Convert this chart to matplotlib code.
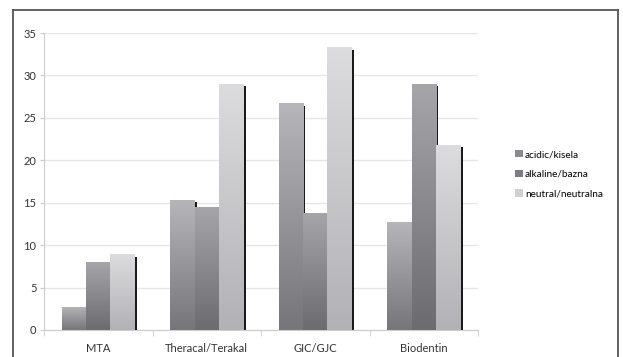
import numpy as np
import matplotlib
matplotlib.use("Agg")
import matplotlib.pyplot as plt
from matplotlib.colors import LinearSegmentedColormap
from matplotlib.lines import Line2D
from matplotlib.patches import Patch

plt.rcParams['font.family'] = ['Lato', 'DejaVu Sans']

categories = ["MTA", "Theracal/Terakal", "GIC/GJC", "Biodentin"]
series = ["acidic/kisela", "alkaline/bazna", "neutral/neutralna"]
acidic = [2.75, 15.3, 26.7, 12.7]
alkaline = [8.05, 14.5, 13.8, 28.95]
neutral = [8.9, 29.0, 33.3, 21.8]

# gradient (top, bottom) and legend swatch colour per series
grads = [("#b6b6ba", "#76767a"), ("#a6a6aa", "#6c6c70"), ("#dcdcde", "#b2b2b6")]
swatch = ["#8a8a8e", "#7c7c80", "#d0d0d2"]

fig = plt.figure(figsize=(6.23, 3.57), dpi=100)
ax = fig.add_axes([44/623, 1-330/357, (478-44)/623, (330-33)/357])

x = np.arange(len(categories))
w = 0.225
px = 1.0 / 108  # one pixel in x data units

for i, vals in enumerate([acidic, alkaline, neutral]):
    pos = x + (i - 1) * w
    # shadow behind the bars
    ax.bar(pos + w/2 + 1.2*px, np.array(vals) - 0.25, width=2.2*px,
           color="#1a1a1a", zorder=1)
    bars = ax.bar(pos, vals, width=w, color="none", zorder=2 + i)
    cmap = LinearSegmentedColormap.from_list("g%d" % i, [grads[i][1], grads[i][0]])
    grad = np.linspace(0, 1, 256).reshape(-1, 1)
    for b in bars:
        x0, y0 = b.get_x(), b.get_y()
        im = ax.imshow(grad, extent=[x0, x0 + b.get_width(), y0, y0 + b.get_height()],
                       origin="lower", aspect="auto", cmap=cmap, zorder=2 + i)
        im.set_clip_path(b)

ax.set_xlim(-0.5, 3.5)
ax.set_ylim(0, 35)
ax.set_yticks(np.arange(0, 36, 5))
ax.yaxis.grid(True, color="#e6e6e6", lw=1)
ax.set_axisbelow(True)

ax.set_xticks(x)
ax.set_xticklabels(categories)
ax.set_xticks(np.arange(-0.5, 4, 1), minor=True)
ax.tick_params(axis="x", which="major", length=0, pad=9, labelsize=8, colors="#333333")
ax.tick_params(axis="x", which="minor", length=4, color="#cccccc", direction="out")
ax.tick_params(axis="y", length=3, color="#cccccc", labelsize=8, labelcolor="#333333", pad=2.5)

for s in ["top", "right"]:
    ax.spines[s].set_visible(False)
ax.spines["left"].set_color("#cccccc")
ax.spines["bottom"].set_color("#cccccc")

handles = [Patch(facecolor=c, edgecolor="none") for c in swatch]
fig.legend(handles, series, loc="upper left", bbox_to_anchor=(515/623, 1-150/357),
           frameon=False, fontsize=7.2, handlelength=0.75, handleheight=0.75,
           handletextpad=0.25, labelspacing=1.05, borderaxespad=0, borderpad=0)

# outer frame (bottom edge is cropped off)
frame = dict(color="#555555", lw=1.3, transform=fig.transFigure)
fig.add_artist(Line2D([13/623, 618/623], [1-10/357, 1-10/357], **frame))
fig.add_artist(Line2D([13/623, 13/623], [0, 1-10/357], **frame))
fig.add_artist(Line2D([618/623, 618/623], [0, 1-10/357], **frame))

fig.savefig("out.png", dpi=100)
